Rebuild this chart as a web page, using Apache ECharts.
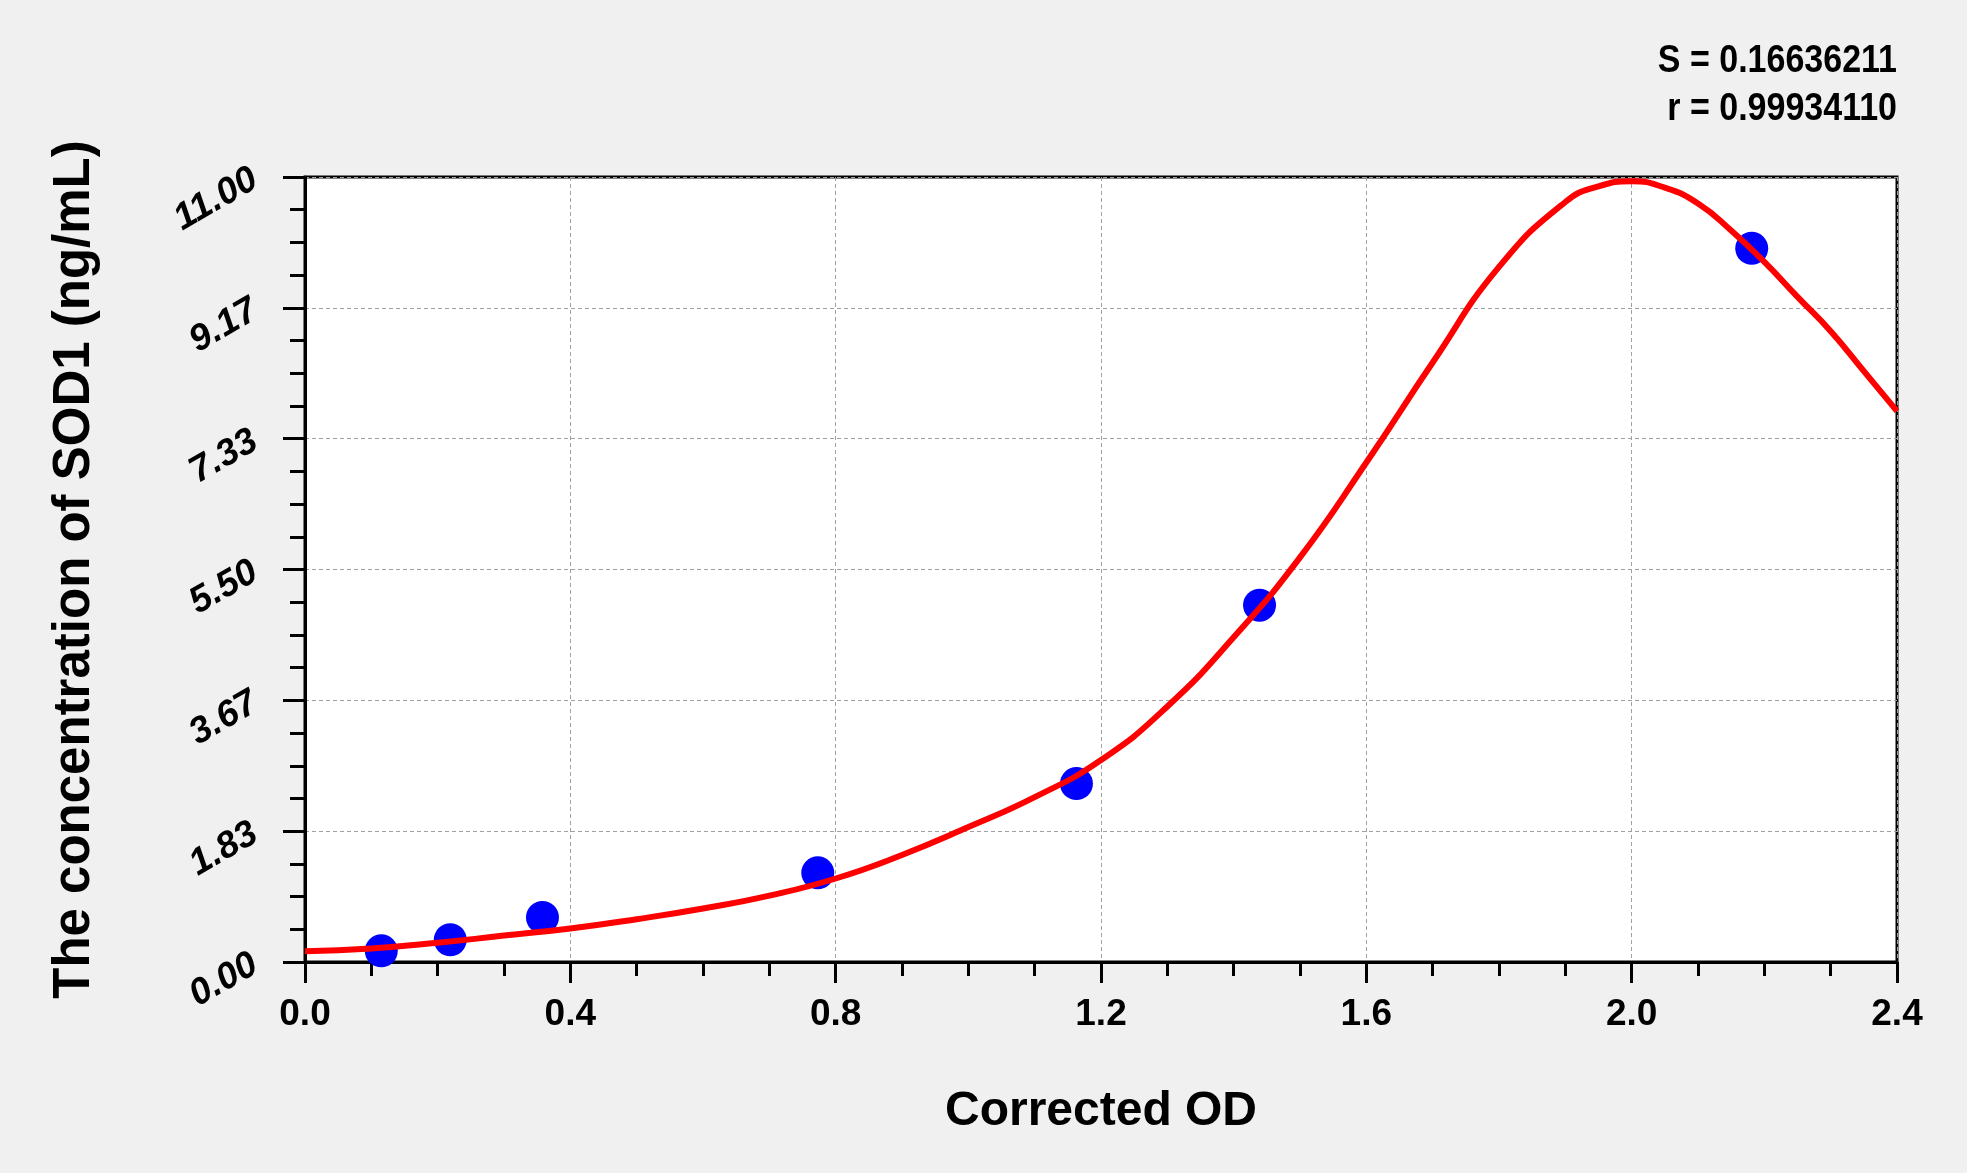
<!DOCTYPE html>
<html lang="en">
<head>
<meta charset="UTF-8">
<title>SOD1 standard curve</title>
<script src="https://cdn.jsdelivr.net/npm/echarts@6/dist/echarts.min.js"></script>
<style>
    html, body { margin: 0; padding: 0; background: #f0f0f0; }
    #main { width: 1967px; height: 1173px; }
</style>
</head>
<body>
<div id="main"></div>
<script>
// standards: corrected OD vs concentration
var odValues = [0.115, 0.219, 0.358, 0.773, 1.163, 1.439, 2.181];
var concValues = [0.156, 0.312, 0.625, 1.25, 2.5, 5, 10];

// fitted curve
var curveOD = [0.0, 0.1, 0.2, 0.3, 0.4, 0.5, 0.6, 0.7, 0.8, 0.9, 1.0, 1.1, 1.2, 1.3, 1.4, 1.5,
               1.6, 1.7, 1.8, 1.9, 1.95, 2.0, 2.05, 2.1, 2.15, 2.2, 2.25, 2.3, 2.35, 2.4];
var curveConc = [0.15, 0.19, 0.27, 0.37, 0.47, 0.60, 0.75, 0.93, 1.17, 1.50, 1.89, 2.31, 2.83, 3.58, 4.55, 5.67,
                 7.00, 8.40, 9.74, 10.65, 10.87, 10.94, 10.85, 10.63, 10.25, 9.81, 9.32, 8.84, 8.28, 7.72];

var statLines = ['S = 0.16636211', 'r = 0.99934110'];

var xMax = 2.4, xStep = 0.4;
var yMax = 11, yStep = 11 / 6;

var font = '"Liberation Sans", Arial, sans-serif';

var chart = echarts.init(document.getElementById('main'));

var points = odValues.map(function (x, i) { return [x, concValues[i]]; });
var curve = curveOD.map(function (x, i) { return [x, curveConc[i]]; });

var option = {
    backgroundColor: '#f0f0f0',
    animation: false,
    grid: {
        left: 305, right: 70, top: 177, bottom: 211,
        show: true,
        backgroundColor: '#ffffff',
        borderColor: '#000000',
        borderWidth: 3
    },
    graphic: statLines.map(function (t, i) {
        return {
            type: 'text',
            right: 70,
            top: 42 + i * 48,
            scaleY: 1.15,
            style: {
                text: t,
                fill: '#000',
                font: 'bold 34px ' + font
            }
        };
    }),
    xAxis: {
        type: 'value',
        min: 0, max: xMax, interval: xStep,
        name: 'Corrected OD',
        nameLocation: 'middle',
        nameGap: 126,
        nameTextStyle: { color: '#000', fontSize: 48, fontWeight: 'bold', fontFamily: font },
        axisLine: { lineStyle: { color: '#000', width: 3 } },
        axisTick: { inside: false, length: 21, lineStyle: { color: '#000', width: 3 } },
        minorTick: { show: true, splitNumber: 4, length: 14, lineStyle: { color: '#000', width: 3 } },
        axisLabel: {
            margin: 34, color: '#000', fontSize: 37, fontWeight: 'bold', fontFamily: font,
            formatter: function (v) { return v.toFixed(1); }
        },
        splitLine: { show: true, lineStyle: { color: '#a0a0a0', width: 1, type: [4, 3] } }
    },
    yAxis: {
        type: 'value',
        min: 0, max: yMax, interval: yStep,
        name: 'The concentration of SOD1 (ng/mL)',
        nameLocation: 'middle',
        nameGap: 205,
        nameTextStyle: { color: '#000', fontSize: 51, fontWeight: 'bold', fontFamily: font },
        axisLine: { lineStyle: { color: '#000', width: 3 } },
        axisTick: { inside: false, length: 22, lineStyle: { color: '#000', width: 3 } },
        minorTick: { show: true, splitNumber: 4, length: 15, lineStyle: { color: '#000', width: 3 } },
        axisLabel: {
            margin: 50, rotate: 30, color: '#000', fontSize: 37, fontWeight: 'bold', fontStyle: 'italic',
            fontFamily: font,
            formatter: function (v) { return v.toFixed(2); }
        },
        splitLine: { show: true, lineStyle: { color: '#a0a0a0', width: 1, type: [4, 3] } }
    },
    series: [
        {
            type: 'scatter',
            data: points,
            symbol: 'circle',
            symbolSize: 33,
            clip: false,
            itemStyle: { color: '#0000ff', opacity: 1 },
            z: 2
        },
        {
            type: 'line',
            data: curve,
            smooth: true,
            showSymbol: false,
            lineStyle: { color: '#ff0000', width: 6 },
            z: 3
        }
    ]
};

chart.setOption(option);
</script>
</body>
</html>
